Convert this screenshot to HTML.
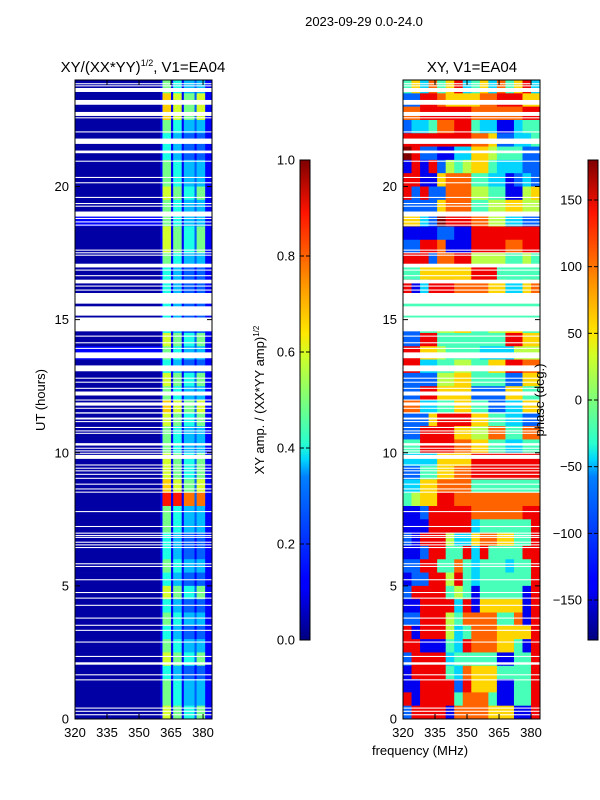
<!DOCTYPE html>
<html><head><meta charset="utf-8">
<style>
html,body{margin:0;padding:0;background:#fff;}
svg{display:block;font-family:"Liberation Sans","DejaVu Sans",sans-serif;}
</style></head>
<body>
<svg id="fig" width="600" height="800" viewBox="0 0 600 800" xmlns="http://www.w3.org/2000/svg">
<defs>
<linearGradient id="jet" x1="0" y1="1" x2="0" y2="0">
<stop offset="0" stop-color="#00007f"/><stop offset="0.11" stop-color="#0000ff"/><stop offset="0.125" stop-color="#0000ff"/>
<stop offset="0.34" stop-color="#0080ff"/><stop offset="0.375" stop-color="#00d4ff"/><stop offset="0.41" stop-color="#29ffce"/>
<stop offset="0.5" stop-color="#7dff7a"/><stop offset="0.59" stop-color="#ceff29"/><stop offset="0.64" stop-color="#ffe600"/>
<stop offset="0.75" stop-color="#ff8e00"/><stop offset="0.89" stop-color="#ff1300"/><stop offset="1" stop-color="#7f0000"/>
</linearGradient>
</defs>
<text x="364" y="26" font-size="13" text-anchor="middle">2023-09-29 0.0-24.0</text>
<text x="143" y="72" font-size="15" text-anchor="middle">XY/(XX*YY)<tspan font-size="9" dy="-6">1/2</tspan><tspan dy="6">, V1=EA04</tspan></text>
<text x="472" y="72" font-size="15" text-anchor="middle">XY, V1=EA04</text>
<g id="ampPanel"></g>
<g id="phasePanel"></g>
<g id="axes"></g>
<text transform="translate(45,400) rotate(-90)" font-size="13" text-anchor="middle">UT (hours)</text>
<text x="420" y="755" font-size="13" text-anchor="middle">frequency (MHz)</text>
<rect x="300" y="160" width="10" height="480" fill="url(#jet)" stroke="#000" stroke-width="1"/>
<rect x="588" y="160" width="10" height="480" fill="url(#jet)" stroke="#000" stroke-width="1"/>
<text transform="translate(264,400) rotate(-90)" font-size="13" text-anchor="middle">XY amp. / (XX*YY amp)<tspan font-size="8" dy="-5">1/2</tspan></text>
<text transform="translate(544,400) rotate(-90)" font-size="13" text-anchor="middle">phase (deg.)</text>
<g id="cbticks"></g>
</svg>
<script>
// ---- data ----
const ampBg = [0,0,0,0,0,0,0,0,0,0,1,0,0,0,0,0,0,0,0,0,1,0,0,0,0,0,0,0,0,0,0,0,0,0,0,0,0,0,0,0,0,0,0,0,0,0,0,0];
const ampRows = [
"155551444413333323333111","177771666615555526666111","177771666615555526666111","155551444413333323333111",
"144441333312222212222111","144441333312222212222111","155551444413333323333111","155551444413333323333111",
"166661555514444425555111","155551444413333323333111","155551444413333323333111","166661555514444425555111",
"166661555514444425555111","155551444413333323333111","144441333312222212222111","144441333312222212222111",
"144441333312222212222111","144441333312222212222111","144441333312222212222111","166661555514444425555111",
"155551444413333323333111","144441333312222212222111","166661555514444425555111","155551444413333323333111",
"177771666615555526666111","166661555514444425555111","155551444413333323333111","155551444413333323333111",
"166661555514444425555111","166661555514444425555111","177771666615555526666111","199991999918888828888111",
"155551444413333323333111","155551444413333323333111","144441333312222212222111","144441333312222212222111",
"155551444413333323333111","144441333312222212222111","166661555514444425555111","144441333312222212222111",
"155551444413333323333111","144441333312222212222111","155551444413333323333111","166661555514444425555111",
"144441333312222212222111","155551444413333323333111","155551444413333323333111","166661555514444425555111"];
const phaseRows = [
"4637468346374683","2288766667788866","7788888877777788","2334778843311344",
"8888888877622334","9822113366544422","1818254566433322","8811677744331232",
"8282277755441156","2222677744556655","6632988877553322","1111221188888888",
"2288711188887788","8882778855554454","4466666688844444","8138887777663367",
"4444444444444444","4444444444444444","2244556644556644","2288444444448866",
"8866544443333555","8833445544668877","2222556644442266","2288666622226644",
"7733446644223366","2226888866443322","2288886655774477","4488887766443344",
"3333666688888888","2244667788888888","3366777744444444","4566887777777777",
"1128888877777788","1118888834444448","2188853367766448","1128844838444488",
"2288447434443448","1228858434444448","2888845414444418","1188883816666618",
"2288854777744718","8188853477766668","8811143877766418","2888834444411448",
"1888843766644448","1188882866611448","8188884777411448","2888817777666118"];
// flagged (missing) time ranges in UT hours: [start, end]
const gapStart = [23.84,23.76,23.55,23.07,22.65,22.56,22.03,21.6,21.25,20.93,20.32,20.12,19.57,19.34,19.24,18.87,18.78,18.65,18.53,17.59,17.49,17.4,16.96,16.84,16.63,16.36,16.24,16.09,15.6,15.15,14.56,14.36,14.11,13.9,13.55,13.06,12.78,12.63,12.4,12.15,
11.96,11.77,11.65,11.47,11.25,11.15,10.93,10.8,10.71,10.27,10.15,10.05,9.96,9.77,9.52,9.4,9.3,9.17,9.02,8.8,8.62,8.5,7.77,7.21,6.96,6.87,6.8,6.62,6.52,6.42,5.81,5.71,5.21,4.73,4.52,4.25,3.77,3.5,3.31,2.87,2.33,2.04,1.64,1.45,0.39,0.27,0.14];
const gapEnd = [23.88,23.8,23.7,23.25,22.8,22.6,22.07,21.8,21.35,20.97,20.36,20.16,19.61,19.38,19.28,19.06,18.82,18.69,18.57,17.63,17.53,17.44,17.1,16.88,16.67,16.5,16.28,16.13,16.0,15.5,15.08,14.4,14.15,13.94,13.77,13.28,12.82,12.67,12.44,12.3,
12.0,11.89,11.69,11.52,11.32,11.19,10.97,10.84,10.75,10.36,10.19,10.09,10.0,9.92,9.56,9.44,9.34,9.21,9.06,8.84,8.66,8.54,7.81,7.25,7.0,6.91,6.84,6.66,6.56,6.46,5.85,5.75,5.25,4.77,4.56,4.29,3.81,3.54,3.35,2.91,2.37,2.13,1.68,1.49,0.43,0.31,0.18];
const yTicks = [0,5,10,15,20];
const xTicks = [320,335,350,365,380];
const ampCbTicks = [0.0,0.2,0.4,0.6,0.8,1.0];
const phaseCbTicks = [-150,-100,-50,0,50,100,150];

// ---- scales ----
const NS="http://www.w3.org/2000/svg";
const Y0=719, Y1=80, H0=0, H1=24;
const yS = h => Y0 - (h-H0)*(Y0-Y1)/(H1-H0);
const F0=320, F1=384.2;
const xS = (x0,x1) => f => x0 + (f-F0)*(x1-x0)/(F1-F0);
const xA = xS(75,212), xP = xS(403,540);
function jet(v){v=Math.max(0,Math.min(1,v));
 const c=t=>Math.round(255*Math.max(0,Math.min(1,1.5-Math.abs(t))));
 return `rgb(${c(4*v-3)},${c(4*v-2)},${c(4*v-1)})`;}
const ampVal = d => (d+0.4)/11;
function rect(g,x,y,w,h,fill,name){const r=document.createElementNS(NS,'rect');
 r.setAttribute('x',x);r.setAttribute('y',y);r.setAttribute('width',w);r.setAttribute('height',h);r.setAttribute('fill',fill);
 
 
 g.appendChild(r);return r;}
function txt(g,x,y,s,anchor,name){const t=document.createElementNS(NS,'text');
 t.setAttribute('x',x);t.setAttribute('y',y);t.setAttribute('font-size','13');t.setAttribute('text-anchor',anchor);t.textContent=s;
 
 
 g.appendChild(t);}
function line(g,x1,y1,x2,y2,name){const l=document.createElementNS(NS,'line');
 l.setAttribute('x1',x1);l.setAttribute('y1',y1);l.setAttribute('x2',x2);l.setAttribute('y2',y2);l.setAttribute('stroke','#000');l.setAttribute('stroke-width','1');
 
 
 g.appendChild(l);}

const nRows = ampRows.length, dh = 24/nRows;
// amplitude panel
const ga=document.getElementById('ampPanel');
ampRows.forEach((row,i)=>{
 const hTop=24-i*dh, hBot=hTop-dh, y=yS(hTop), h=yS(hBot)-y;
 rect(ga,xA(320),y,xA(360)-xA(320)+0.5,h+0.3,jet(ampVal(ampBg[i])),'amp-cell');
 for(let k=0;k<row.length;k++){
  const f=360+k; rect(ga,xA(f),y,xA(f+1)-xA(f)+0.4,h+0.3,jet(ampVal(+row[k])),'amp-cell');
 }
});
// phase panel
const gp=document.getElementById('phasePanel');
phaseRows.forEach((row,i)=>{
 const hTop=24-i*dh, hBot=hTop-dh, y=yS(hTop), h=yS(hBot)-y;
 const nc=row.length, df=64/nc;
 for(let k=0;k<nc;k++){
  const f=320+k*df; const fe=Math.min(F1,f+df);
  rect(gp,xP(f),y,xP(fe)-xP(f)+0.4,h+0.3,jet(+row[k]/9),'phase-cell');
 }
});
// gaps
for(let j=0;j<gapStart.length;j++){
 const y=yS(gapEnd[j]), h=Math.max(1,yS(gapStart[j])-y);
 rect(ga,75,y,137,h,'#fff','amp-flag-gap');
 rect(gp,403,y,137,h,'#fff','phase-flag-gap');
}
// axes
const gx=document.getElementById('axes');
[[75,xA,'amp'],[403,xP,'phase']].forEach(([x0,xs,p])=>{
 const fr=document.createElementNS(NS,'rect');
 fr.setAttribute('x',x0);fr.setAttribute('y',Y1);fr.setAttribute('width',137);fr.setAttribute('height',Y0-Y1);
 fr.setAttribute('fill','none');fr.setAttribute('stroke','#000');fr.setAttribute('stroke-width','1');
 
 
 gx.appendChild(fr);
 yTicks.forEach(v=>{const y=yS(v);line(gx,x0,y,x0+5,y,'y-tick');line(gx,x0+137,y,x0+132,y,'y-tick');
  txt(gx,x0-6,y+4.5,String(v),'end','y-tick-label');});
 xTicks.forEach(v=>{const x=xs(v);line(gx,x,Y0,x,Y0-5,'x-tick');line(gx,x,Y1,x,Y1+5,'x-tick');
  txt(gx,x,Y0+18,String(v),'middle','x-tick-label');});
});
// colorbar ticks
const gc=document.getElementById('cbticks');
ampCbTicks.forEach(v=>{const y=640-v*480;line(gc,300,y,304,y,'amp-cb-tick');line(gc,310,y,306,y,'amp-cb-tick');
 txt(gc,295,y+4.5,v.toFixed(1),'end','amp-cb-tick-label');});
phaseCbTicks.forEach(v=>{const y=400-v*480/360;line(gc,588,y,592,y,'phase-cb-tick');line(gc,598,y,594,y,'phase-cb-tick');
 txt(gc,582,y+4.5,(v<0?'\u2212'+(-v):String(v)),'end','phase-cb-tick-label');});
</script>
</body></html>
